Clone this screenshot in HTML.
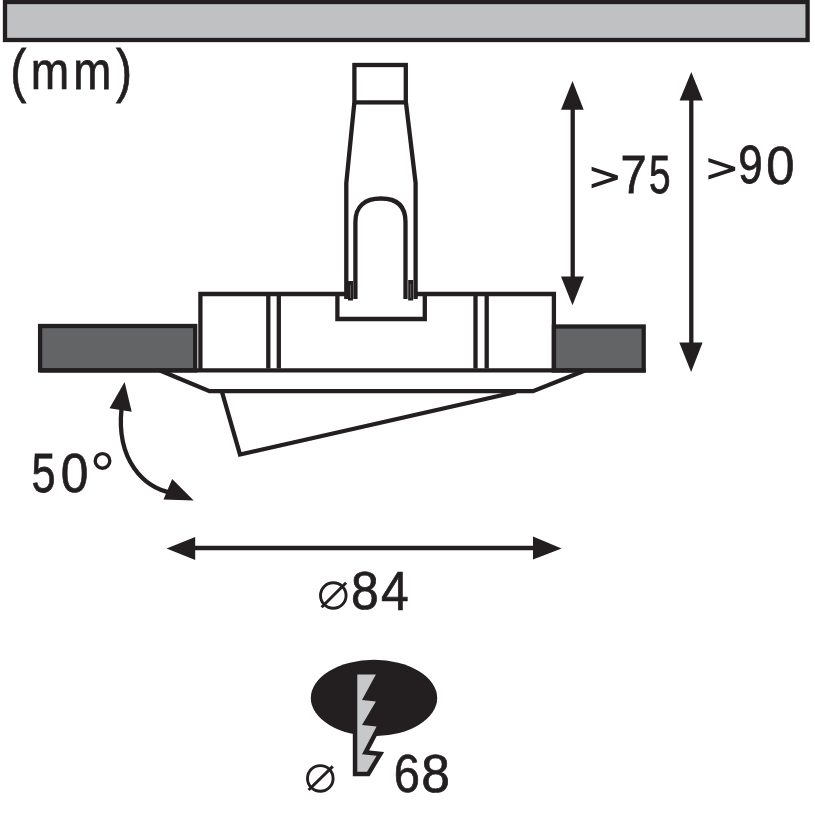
<!DOCTYPE html>
<html><head><meta charset="utf-8">
<style>
html,body{margin:0;padding:0;background:#fff;width:815px;height:819px;overflow:hidden}
svg{position:absolute;left:0;top:0;display:block;will-change:transform}
text{font-family:"Liberation Sans",sans-serif;fill:#231f20}
</style></head><body>
<svg width="815" height="819" viewBox="0 0 815 819">
<g fill="none" stroke="#231f20" stroke-width="4.3">
  <!-- ceiling bar -->
  <rect x="5" y="2" width="802.6" height="38" fill="#bfc1c2"/>
  <!-- slabs -->
  <rect x="40.1" y="326" width="155.1" height="44.4" fill="#636466"/>
  <rect x="553.9" y="326.5" width="89.8" height="44" fill="#636466"/>
  <!-- housing -->
  <path d="M200.4,370.3 L200.4,294 L346,294 M416,294 L553.9,294 L553.9,370.3"/>
  <path d="M268.3,296 V368.5 M278.8,296 V368.5 M475.5,296 V368.5 M486.7,296 V368.5"/>
  <!-- bottom line -->
  <path d="M40,370.4 L645.7,370.4"/>
  <!-- center box -->
  <path d="M337.4,294 V319 H424.8 V294"/>
  <!-- top small rect -->
  <rect x="354.4" y="65" width="51.4" height="37.4"/>
  <!-- stem outer -->
  <path d="M354.3,103 L346.3,183 L346.3,299 M406,103 L415.6,183 L415.6,299"/>
  <!-- arch -->
  <path d="M355.4,299 L355.4,222 C355.4,206 365,198.5 381,198.5 C397,198.5 405.5,206 405.5,222 L405.5,299"/>
  <!-- bezel -->
  <path d="M160,370.4 L209.5,391.2 L533,391.2 L585,370.4"/>
  <!-- tilted lamp -->
  <path d="M222,392 L240,454.5 L516,392" stroke-linejoin="miter"/>
  <!-- dimension lines -->
  <path d="M572.7,105 V280 M691.3,95 V346 M190,548 H540"/>
  <!-- curved arrow -->
  <path d="M121.5,409 C116.3,460.3 143.7,487.8 172,493"/>
</g>
<g fill="#231f20">
  <!-- clips -->
  <rect x="348" y="281" width="5" height="19.5"/>
  <rect x="408.2" y="280" width="5" height="20.5"/>
  <rect x="350" y="285" width="0.8" height="13" fill="#6a6869"/>
  <rect x="410.3" y="284" width="0.8" height="14" fill="#6a6869"/>
  <!-- arrowheads -->
  <polygon points="572.5,81 561,109.7 583.7,109.7"/>
  <polygon points="572.5,305.3 561,276.6 583.9,276.6"/>
  <polygon points="691.3,72.1 679.6,100.4 702.8,100.4"/>
  <polygon points="691.1,372.1 679.3,342.4 702.6,342.4"/>
  <polygon points="166.6,548.5 195.2,536.9 195.2,559.9"/>
  <polygon points="561.6,548.5 533,536.6 533,559.5"/>
  <polygon points="124.6,382.1 109.5,408.3 131.7,411.8"/>
  <polygon points="193.7,500.4 172.2,479 163.5,499.6"/>
  <!-- ellipse -->
  <ellipse cx="374" cy="698" rx="63.2" ry="38.2"/>
</g>
<!-- lightning -->
<polygon points="357.3,674.5 375.9,674.5 362,700.1 375.9,701.6 362,725 376.6,726.5 362,754.3 376.6,755.7 367,771.8 357.3,771.8" fill="#231f20" stroke="#231f20" stroke-width="9" stroke-linejoin="miter" stroke-miterlimit="3"/>
<polygon points="357.3,674.5 375.9,674.5 362,700.1 375.9,701.6 362,725 376.6,726.5 362,754.3 376.6,755.7 367,771.8 357.3,771.8" fill="#c7c8ca"/>
<!-- diameter symbols -->
<g fill="none" stroke="#231f20" stroke-width="2.9">
  <circle cx="333.3" cy="595.5" r="12.8"/>
  <path d="M321.6,607.3 L346.1,582.8"/>
  <circle cx="320.3" cy="778.4" r="12.8"/>
  <path d="M308.6,790 L332.8,766.4"/>
</g>
<!-- texts -->
<text transform="matrix(0.4828,0,0,0.5861,10.36,90.92)" font-size="100" stroke="#231f20" stroke-width="1.310">(</text>
<text transform="matrix(0.4610,0,0,0.5297,30.69,89.15)" font-size="100" stroke="#231f20" stroke-width="1.413">m</text>
<text transform="matrix(0.4567,0,0,0.5297,73.32,89.15)" font-size="100" stroke="#231f20" stroke-width="1.419">m</text>
<text transform="matrix(0.4828,0,0,0.5861,115.97,90.92)" font-size="100" stroke="#231f20" stroke-width="1.310">)</text>
<text transform="matrix(0.4708,0,0,0.5451,620.44,192.65)" font-size="100" stroke="#231f20" stroke-width="1.378">7</text>
<text transform="matrix(0.3881,0,0,0.5446,649.00,192.62)" font-size="100" stroke="#231f20" stroke-width="1.501">5</text>
<text transform="matrix(0.4395,0,0,0.5339,738.19,183.43)" font-size="100" stroke="#231f20" stroke-width="1.438">9</text>
<text transform="matrix(0.5083,0,0,0.5424,766.26,184.02)" font-size="100" stroke="#231f20" stroke-width="1.332">0</text>
<text transform="matrix(0.4324,0,0,0.5503,31.52,491.91)" font-size="100" stroke="#231f20" stroke-width="1.425">5</text>
<text transform="matrix(0.4979,0,0,0.5494,60.71,491.91)" font-size="100" stroke="#231f20" stroke-width="1.337">0</text>
<text transform="matrix(0.4987,0,0,0.5367,350.88,609.23)" font-size="100" stroke="#231f20" stroke-width="1.352">8</text>
<text transform="matrix(0.4981,0,0,0.5523,381.11,609.75)" font-size="100" stroke="#231f20" stroke-width="1.333">4</text>
<text transform="matrix(0.4703,0,0,0.5353,393.66,792.23)" font-size="100" stroke="#231f20" stroke-width="1.392">6</text>
<text transform="matrix(0.5157,0,0,0.5353,421.31,792.23)" font-size="100" stroke="#231f20" stroke-width="1.332">8</text>
<polygon fill="#231f20" points="591.6,166.8 617.9,175.6 617.9,179.5 591.6,188.3 591.6,184.3 611.8,177.6 591.6,170.8"/>
<polygon fill="#231f20" points="708.4,158.1 735.2,166.9 735.2,170.8 708.4,179.6 708.4,175.6 729.0,168.8 708.4,162.1"/>
<circle cx="102.5" cy="460.9" r="7.3" fill="none" stroke="#231f20" stroke-width="3.4"/>
</svg>
</body></html>
